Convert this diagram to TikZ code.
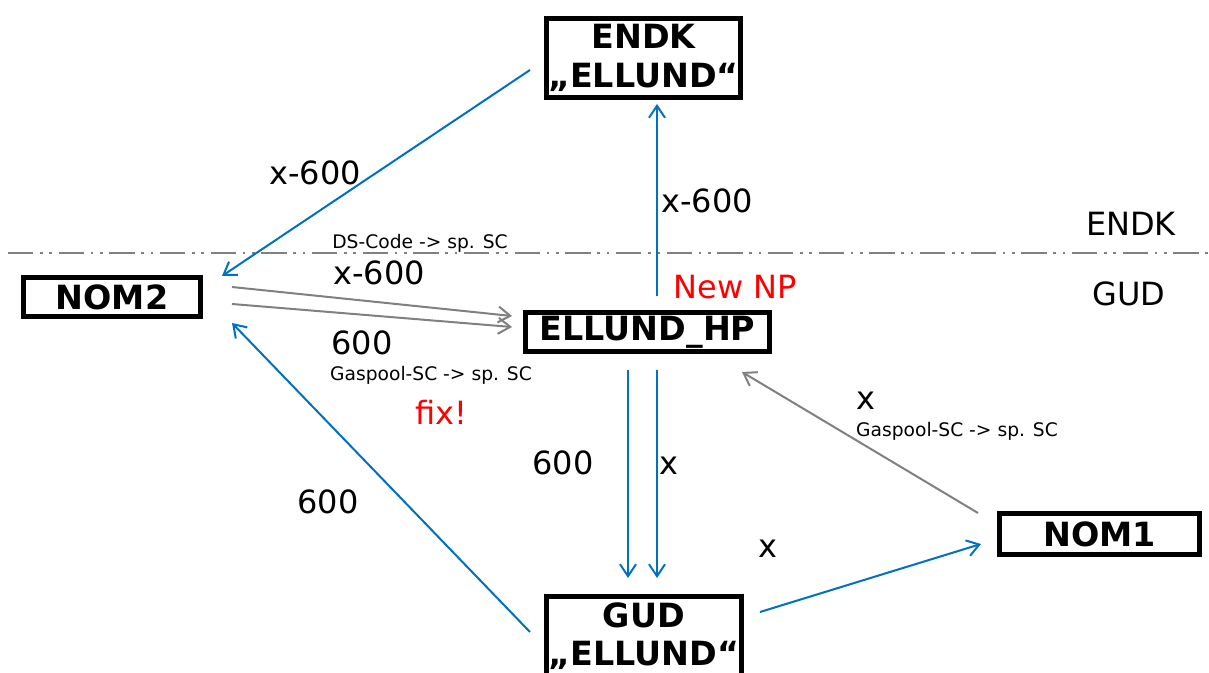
\documentclass[tikz,border=0pt]{standalone}
\usepackage{fontspec}
\setmainfont{DejaVu Sans}
\usetikzlibrary{arrows.meta,calc}
\definecolor{myblue}{RGB}{0,112,192}
\definecolor{mygray}{RGB}{128,128,128}
\definecolor{myred}{RGB}{255,0,0}
\begin{document}
\begin{tikzpicture}[x=0.75pt,y=-0.75pt,
 box/.style={draw=black,line width=3.6pt,fill=white,inner sep=0pt,font=\fontsize{25}{29}\selectfont\bfseries,align=center},
 lbl/.style={inner sep=0pt,font=\fontsize{24}{28}\selectfont},
 sml/.style={inner sep=0pt,font=\fontsize{14}{16}\selectfont},
 redl/.style={lbl,text=myred},
 barrow/.style={draw=myblue,line width=1.5pt,-{Straight Barb[length=9pt,width=12pt]}},
 garrow/.style={draw=mygray,line width=1.5pt,-{Straight Barb[length=9pt,width=12pt]}},
 sepline/.style={draw=mygray,line width=1.5pt,dash pattern=on 19pt off 5pt on 2pt off 5pt on 2pt off 5pt}]
\useasboundingbox (0,0) rectangle (1209,673);
\clip (0,0) rectangle (1209,673);

% separator
\draw[sepline] (8,253) -- (1209,253);

% boxes
\node[box,minimum width=145.5pt,minimum height=59pt] (endk) at (643.5,58) {ENDK\\„ELLUND“};
\node[box,minimum width=133pt,minimum height=29.5pt] (nom2) at (112,297) {NOM2};
\node[box,minimum width=183pt,minimum height=29.5pt] (hp) at (647.5,332) {ELLUND\_HP};
\node[box,minimum width=150pt,minimum height=31pt] (nom1) at (1099.5,534) {NOM1};
\node[box,minimum width=146.5pt,minimum height=59pt] (gud) at (644,636) {GUD\\„ELLUND“};

% connectors
\draw[barrow] ([shift={(-113.5,12)}]endk.center) -- ([shift={(110,-21)}]nom2.center);
\draw[barrow] ([shift={(9.5,-36)}]hp.center) -- ([shift={(13.5,46)}]endk.center);
\draw[garrow] ([shift={(120,-10)}]nom2.center) -- ([shift={(-135.5,-16)}]hp.center);
\draw[garrow] ([shift={(120,7)}]nom2.center) -- ([shift={(-135.5,-5)}]hp.center);
\draw[barrow] ([shift={(-114,-4)}]gud.center) -- ([shift={(120,26)}]nom2.center);
\draw[barrow] ([shift={(-19.5,38)}]hp.center) -- ([shift={(-16,-58)}]gud.center);
\draw[barrow] ([shift={(9.5,38)}]hp.center) -- ([shift={(13,-58)}]gud.center);
\draw[garrow] ([shift={(-121.5,-21)}]nom1.center) -- ([shift={(94.5,40)}]hp.center);
\draw[barrow] ([shift={(116,-24)}]gud.center) -- ([shift={(-118.5,10)}]nom1.center);

% labels
\node[lbl] (l1) at (315,173) {x-600};
\node[lbl] (l2) at (707,201) {x-600};
\node[lbl] (l3) at (1131,224) {ENDK};
\node[lbl] (l4) at (1129,294) {GUD};
\node[sml] (l5) at (420,243) {DS-Code -> sp. SC};
\node[lbl] (l6) at (379,273) {x-600};
\node[redl] (l7) at (735,287) {New NP};
\node[lbl] (l8) at (362,343) {600};
\node[sml] (l9) at (431,375) {Gaspool-SC -> sp. SC};
\node[redl] (l10) at (441,412) {fix!};
\node[lbl] (l11) at (563,463) {600};
\node[lbl] (l12) at (669,466) {x};
\node[lbl] (l13) at (328,502) {600};
\node[lbl] (l14) at (768,549) {x};
\node[lbl] (l15) at (866,401) {x};
\node[sml] (l16) at (957,431) {Gaspool-SC -> sp. SC};
\end{tikzpicture}
\end{document}
